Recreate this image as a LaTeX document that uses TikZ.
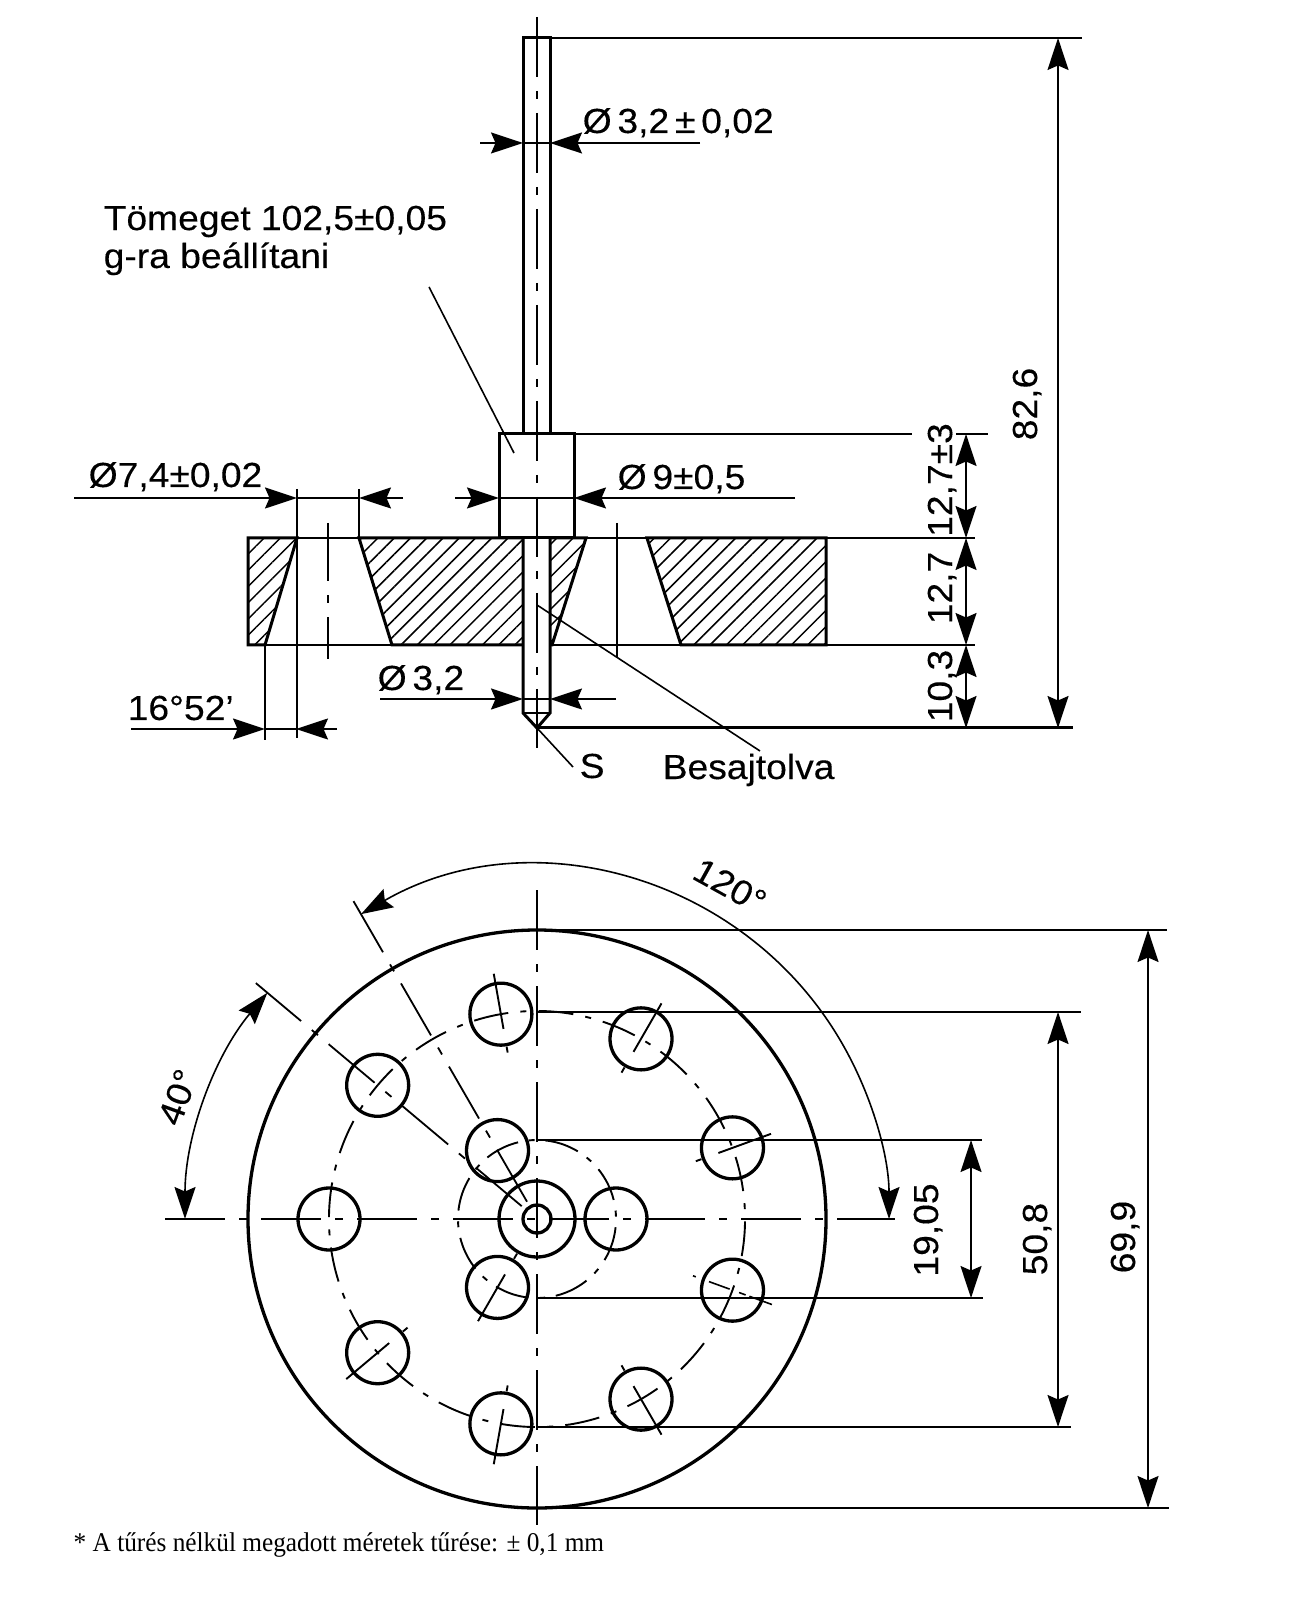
\documentclass[tikz,border=0pt]{standalone}
\usepackage{fontspec}
\setmainfont{Liberation Sans}[FakeStretch=1.07,FakeBold=0.25]
\newfontfamily\notefont{Liberation Serif}[FakeStretch=.935]
\usetikzlibrary{arrows.meta,patterns.meta}
\tikzstyle{label}=[inner sep=0,font=\fontsize{9.9}{10.8}\selectfont]
\tikzstyle{outline}=[line width=.3mm]
\tikzstyle{hole}=[line width=.33mm]
\tikzstyle{fine}=[line width=.16mm]
\tikzstyle{spoke}=[line width=.19mm]
\tikzstyle{axis}=[line width=.18mm,dash pattern=on 6mm off 1.4mm on .8mm off 1.4mm]
\tikzstyle{pitch}=[line width=.19mm,dash pattern=on 3.49mm off 1.22mm on .6mm off 1.22mm]
\tikzstyle{pitchin}=[line width=.19mm,dash pattern=on 3.45mm off 1.07mm on .6mm off 1.08mm]
\tikzstyle{hatch}=[pattern={Lines[angle=45,distance=1.15mm,line width=.15mm]}]
\tikzstyle{tip}=[fine,-{Stealth[length=3.2mm,width=2.1mm,inset=.45mm]}]
\tikzstyle{both}=[fine,{Stealth[length=3.2mm,width=2.1mm,inset=.45mm]}-{Stealth[length=3.2mm,width=2.1mm,inset=.45mm]}]

\begin{document}
\begin{tikzpicture}[x=.1mm,y=.1mm]
  \useasboundingbox (0,0) rectangle (1301,-1599);

  % side view
  \fill [hatch] (248,-538) -- (297,-538) -- (265,-645) -- (248,-645) -- cycle;
  \fill [hatch] (359,-538) -- (523,-538) -- (523,-645) -- (392,-645) -- cycle;
  \fill [hatch] (550,-538) -- (586,-538) -- (552,-645) -- (550,-645) -- cycle;
  \fill [hatch] (647,-538) -- (826,-538) -- (826,-645) -- (681,-645) -- cycle;
  \draw [outline] (265,-645) -- (248,-645) -- (248,-538) -- (297,-538) -- cycle;
  \draw [outline] (523,-538) -- (359,-538) -- (392,-645) -- (523,-645);
  \draw [outline] (550,-538) -- (586,-538) -- (552,-645) -- (550,-645);
  \draw [outline] (647,-538) -- (826,-538) -- (826,-645) -- (681,-645) -- cycle;

  \draw [outline] (523,-434) -- (523,-38) -- (550,-38) -- (550,-434);
  \draw [outline] (499,-434) rectangle (574,-538);
  \draw [outline] (523,-538) -- (523,-713) -- (537,-728) -- (550,-713) -- (550,-538);
  \draw [fine] (523,-713) -- (550,-713);

  \draw [axis] (537,-17) -- (537,-748);
  \draw [axis,dash phase=.15mm] (328,-523) -- (328,-659);
  \draw [fine] (617,-523) -- (617,-658);

  \draw [fine] (297,-538) -- (359,-538);
  \draw [fine] (586,-538) -- (647,-538);
  \draw [fine] (265,-645) -- (392,-645);
  \draw [fine] (552,-645) -- (681,-645);
  \draw [fine] (297,-489) -- (297,-738);
  \draw [fine] (359,-489) -- (359,-538);
  \draw [fine] (265,-645) -- (265,-740);

  % extension lines
  \draw [fine] (550,-38) -- (1082,-38);
  \draw [fine] (574,-434) -- (912,-434);
  \draw [fine] (956,-434) -- (988,-434);
  \draw [fine] (826,-538) -- (975,-538);
  \draw [fine] (826,-645) -- (975,-645);
  \draw [outline] (537,-728) -- (1073,-728);

  % side view dimensions
  \draw [tip] (480,-143) -- (523,-143);
  \draw [tip] (700,-143) -- (550,-143);
  \draw [fine] (523,-143) -- (550,-143);
  \draw [tip] (74,-498) -- (297,-498);
  \draw [tip] (403,-498) -- (359,-498);
  \draw [fine] (297,-498) -- (359,-498);
  \draw [tip] (455,-498) -- (499,-498);
  \draw [tip] (795,-498) -- (574,-498);
  \draw [fine] (499,-498) -- (574,-498);
  \draw [tip] (380,-699) -- (523,-699);
  \draw [tip] (616,-699) -- (550,-699);
  \draw [fine] (523,-699) -- (550,-699);
  \draw [tip] (131,-729) -- (265,-729);
  \draw [tip] (337,-729) -- (296,-729);
  \draw [fine] (265,-729) -- (296,-729);
  \draw [both] (966,-434) -- (966,-538);
  \draw [both] (966,-538) -- (966,-645);
  \draw [both] (966,-645) -- (966,-728);
  \draw [both] (1058,-38) -- (1058,-728);

  % leaders
  \draw [fine] (429,-287) -- (514,-453);
  \draw [fine] (537,-605) -- (760,-751);
  \draw [fine] (537,-728) -- (573,-767);

  \node [label,anchor=base west] at (582,-133) (dia_pin) {Ø\,3,2\,±\,0,02};
  \node [label,anchor=base west,align=left] at (103,-268) (text_mass) {Tömeget 102,5±0,05\\g-ra beállítani};
  \node [label,anchor=base west] at (88,-487) (dia_hole) {Ø7,4±0,02};
  \node [label,anchor=base west] at (617,-489) (dia_collar) {Ø\,9±0,5};
  \node [label,anchor=base west] at (377,-690) (dia_tip) {Ø\,3,2};
  \node [label,anchor=base west] at (127,-720) (angle_cone) {16°52’};
  \node [label,anchor=base west] at (579,-778) (text_s) {S};
  \node [label,anchor=base west] at (662,-779) (text_press) {Besajtolva};
  \node [label,anchor=base,rotate=90] at (952,-480) (len_collar) {12,7±3};
  \node [label,anchor=base,rotate=90] at (952,-588) (len_plate) {12,7};
  \node [label,anchor=base,rotate=90] at (952,-686) (len_tip) {10,3};
  \node [label,anchor=base,rotate=90] at (1037,-404) (len_total) {82,6};

  % top view
  \begin{scope}[shift={(537,-1219)}]
    \draw [hole] (0,0) circle (289);
    \draw [hole] (0,0) circle (38);
    \draw [hole] (0,0) circle (14);
    \foreach \a in {180,140,...,-140}
      \draw [hole] (\a:208) circle (31);
    \foreach \a in {0,120,-120}
      \draw [hole] (\a:79) circle (31);

    \draw [pitch] (26:208) arc [start angle=26,end angle=386,radius=208];
    \draw [pitchin] (-31:79) arc [start angle=-31,end angle=329,radius=79];

    \foreach \a in {100,60,20,-60,-100,-140} {
      \draw [spoke] (\a:193) -- (\a:249);
      \draw [spoke] (\a:169) -- (\a:175);
    }
    \draw [spoke] (-120:64) -- (-120:118);
    \draw [spoke] (-120:40) -- (-120:46);
    \draw [fine] (-20:166) -- (-20:169);
    \draw [fine] (-20:183) -- (-20:205);
    \draw [fine] (-20:215) -- (-20:222);
    \draw [fine] (-20:226) -- (-20:250);

    \draw [axis] (120:20) -- (120:367);
    \draw [axis] (140:20) -- (140:367);
    \draw [axis] (-372,0) -- (358,0);
    \draw [axis] (0,329) -- (0,-306);

    % extension lines
    \draw [fine] (0,289) -- (630,289);
    \draw [fine] (0,207) -- (544,207);
    \draw [fine] (0,79) -- (445,79);
    \draw [fine] (0,-79) -- (446,-79);
    \draw [fine] (0,-208) -- (534,-208);
    \draw [spoke] (0,-289) -- (632,-289);

    % dimensions
    \draw [both] (611,289) -- (611,-289);
    \draw [both] (521,207) -- (521,-208);
    \draw [both] (434,79) -- (434,-79);
    \draw [both] (180:352) arc [start angle=180,end angle=140,radius=352];
    \draw [both] (120:352) arc [start angle=120,end angle=0,radius=352];

    \node [label,anchor=base,rotate=90] at (598,-18) (dia_outer) {69,9};
    \node [label,anchor=base,rotate=90] at (510,-20) (dia_pitch) {50,8};
    \node [label,anchor=base,rotate=90] at (401,-11) (dia_inner) {19,05};
    \node [label,rotate=-29] at (193,333) (angle_big) {120°};
    \node [label,rotate=70] at (-359,122) (angle_small) {40°};
  \end{scope}

  \node [inner sep=0,anchor=base west,font=\notefont\fontsize{7.7}{9}\selectfont] at (73,-1551) (text_note) {* A tűrés nélkül megadott méretek tűrése: ± 0,1 mm};
\end{tikzpicture}
\end{document}
